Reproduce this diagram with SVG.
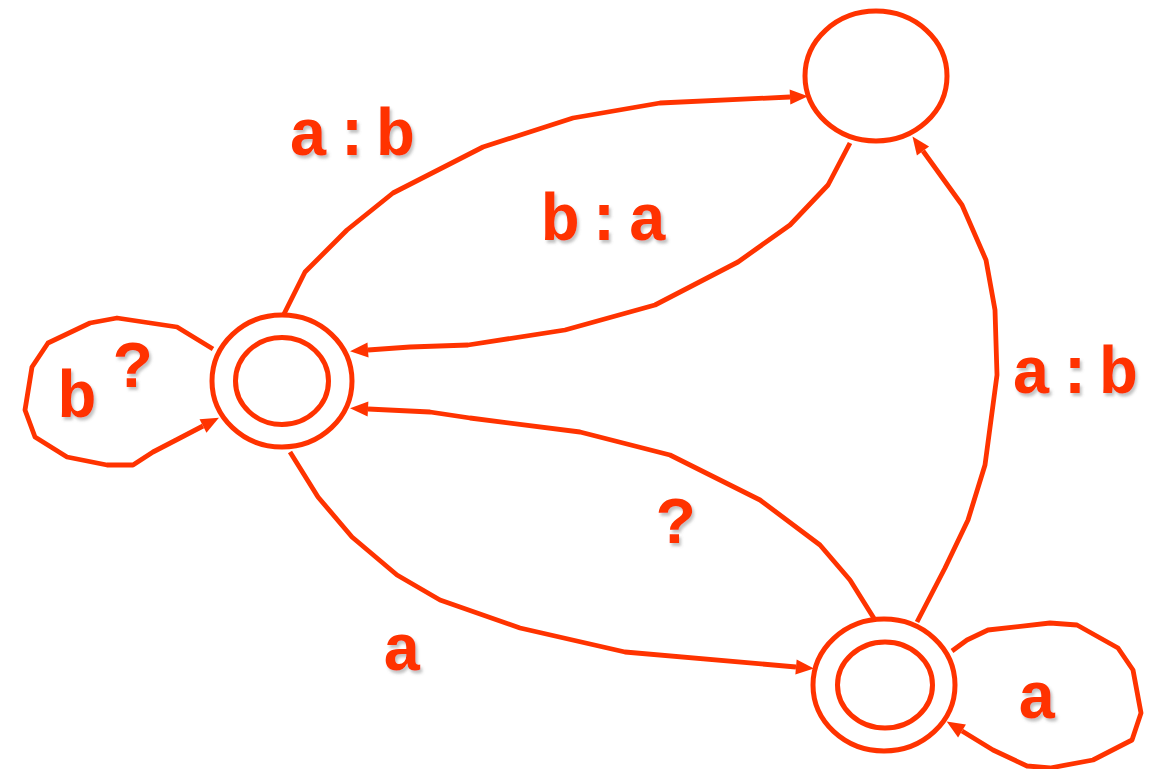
<svg xmlns="http://www.w3.org/2000/svg" width="1159" height="769" viewBox="0 0 1159 769">
<style>
.st{fill:none;stroke:#ff3300;stroke-width:5}
.ln{fill:none;stroke:#ff3300;stroke-width:4.8;stroke-linejoin:round;stroke-linecap:butt}
.lb{font-family:"Liberation Mono","Courier New",monospace;font-weight:bold;font-size:66px;fill:#ff3300;text-anchor:middle;filter:url(#sh)}
.sp{letter-spacing:4px}
</style>
<defs>
<marker id="ar" markerUnits="userSpaceOnUse" markerWidth="22" markerHeight="18" viewBox="-1 -9 22 18" refX="0" refY="0" orient="auto">
<path d="M0,-7.5 L18,0 L0,7.5 z" fill="#ff3300"/>
</marker>
<filter id="sh" x="-20%" y="-20%" width="140%" height="140%">
<feDropShadow dx="2" dy="3" stdDeviation="1.5" flood-color="#777" flood-opacity="0.45"/>
</filter>
</defs>
<rect width="1159" height="769" fill="#ffffff"/>
<g id="connectors">
<polyline class="ln" marker-end="url(#ar)" points="283,316 305,272 347,230 393,193 483,147 573,118 660,103 790,97"/>
<polyline class="ln" marker-end="url(#ar)" points="850,143 828,185 790,225 738,262 655,305 565,330 468,345 410,347 368,350"/>
<polyline class="ln" marker-end="url(#ar)" points="875,620 850,580 820,545 760,500 670,455 580,432 470,418 430,412 368,409"/>
<polyline class="ln" marker-end="url(#ar)" points="290,452 318,497 352,537 397,575 440,600 520,628 625,652 796,667"/>
<polyline class="ln" marker-end="url(#ar)" points="917,622 945,568 968,520 985,465 997,375 995,310 986,260 962,205 923,151"/>
<polyline class="ln" marker-end="url(#ar)" points="213,349 177,327 117,318 90,323 48,343 32,367 25,410 35,437 67,457 107,465 133,465 153,452 180,438 203,426"/>
<polyline class="ln" marker-end="url(#ar)" points="952,651 967,640 988,630 1050,623 1077,625 1118,648 1133,670 1141,713 1132,740 1093,760 1050,768 1027,766 993,750 962,731"/>
</g>
<g id="nodeA">
<ellipse class="st" cx="282" cy="381" rx="70" ry="66"/>
<ellipse class="st" cx="282" cy="381" rx="46.5" ry="43.5"/>
</g>
<g id="nodeB">
<ellipse class="st" cx="876" cy="76" rx="71" ry="65"/>
</g>
<g id="nodeC">
<ellipse class="st" cx="884" cy="685" rx="71" ry="66"/>
<ellipse class="st" cx="885" cy="685" rx="47.5" ry="43"/>
</g>
<g id="labels">
<text class="lb sp" x="354" y="155">a:b</text>
<text class="lb sp" x="606" y="240">b:a</text>
<text class="lb sp" x="1077" y="393">a:b</text>
<text class="lb" x="676" y="543">?</text>
<text class="lb" x="402" y="670">a</text>
<text class="lb" x="1037" y="718">a</text>
<text class="lb" x="77" y="417">b</text>
<text class="lb" x="133" y="387">?</text>
</g>
</svg>
